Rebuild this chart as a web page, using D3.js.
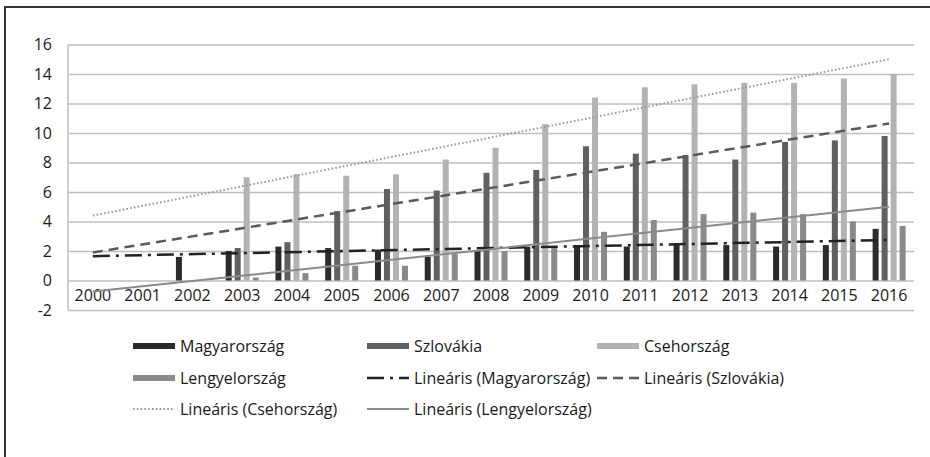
<!DOCTYPE html>
<html>
<head>
<meta charset="utf-8">
<script src="https://cdn.jsdelivr.net/npm/d3@7/dist/d3.min.js"></script>
<style>
  body { margin: 0; background: #fff; }
  svg { display: block; font-family: "Open Sans", sans-serif; }
</style>
</head>
<body>
<svg id="chart" width="930" height="457"></svg>
<script>
// data
var years = ["2000","2001","2002","2003","2004","2005","2006","2007","2008",
             "2009","2010","2011","2012","2013","2014","2015","2016"];
var magyar   = [null,null,1.6,2.0,2.3,2.2,2.1,1.6,2.0,2.3,2.4,2.3,2.5,2.4,2.3,2.4,3.5];
var szlovak  = [null,null,null,2.2,2.6,4.7,6.2,6.1,7.3,7.5,9.1,8.6,8.5,8.2,9.4,9.5,9.8];
var cseh     = [null,null,null,7.0,7.2,7.1,7.2,8.2,9.0,10.6,12.4,13.1,13.3,13.4,13.4,13.7,14.0];
var lengyel  = [null,null,null,0.2,0.5,1.0,1.0,1.8,2.0,2.2,3.3,4.1,4.5,4.6,4.5,4.0,3.7];
// trend lines: value at 2000 and at 2016
var trendMagyar  = [1.65, 2.75];
var trendSzlovak = [1.9, 10.65];
var trendCseh    = [4.4, 15.0];
var trendLengyel = [-0.75, 5.0];
var yTicks = [-2,0,2,4,6,8,10,12,14,16];

var series = [
  {name: "Magyarország", values: magyar,  color: "#2b2b2b"},
  {name: "Szlovákia",    values: szlovak, color: "#606060"},
  {name: "Csehország",   values: cseh,    color: "#b3b3b3"},
  {name: "Lengyelország",values: lengyel, color: "#8a8a8a"}
];
var trends = [
  {name: "Lineáris (Magyarország)",  ends: trendMagyar,  color: "#222", width: 2.5, dash: "17,6,3,6"},
  {name: "Lineáris (Szlovákia)",     ends: trendSzlovak, color: "#5a5a5a", width: 2.5, dash: "10,6"},
  {name: "Lineáris (Csehország)",    ends: trendCseh,    color: "#9a9a9a", width: 2, dash: "1.6,2.2"},
  {name: "Lineáris (Lengyelország)", ends: trendLengyel, color: "#8a8a8a", width: 2, dash: null}
];

var svg = d3.select("#chart");

// frame (left + top only)
svg.append("path").attr("d", "M5,457V7H930")
  .attr("fill", "none").attr("stroke", "#333").attr("stroke-width", 2);

var left = 68, right = 914;
var x = d3.scaleBand().domain(years).range([left, right]).padding(0);
var y = d3.scaleLinear().domain([-2, 16]).range([310, 44.5]);

// gridlines + y labels
var yAxis = d3.axisLeft(y).tickValues(yTicks).tickSize(-(right - left)).tickPadding(16)
  .tickFormat(function(d) { return String(d); });
var gy = svg.append("g").attr("transform", "translate(" + left + ",0)").call(yAxis);
gy.select(".domain").remove();
gy.selectAll(".tick line").attr("stroke", "#bfbfbf").attr("stroke-width", 1.5);
gy.selectAll(".tick text").attr("font-size", 16).attr("fill", "#1a1a1a")
  .attr("font-family", "'Open Sans', sans-serif");

// value axis line
svg.append("line").attr("x1", left).attr("x2", left)
  .attr("y1", y(16)).attr("y2", y(-2))
  .attr("stroke", "#bfbfbf").attr("stroke-width", 1.5);

// bars
var barW = 6, step = 9;
series.forEach(function(s, i)
{
  svg.append("g").selectAll("rect")
    .data(s.values.map(function(v, j) { return {year: years[j], v: v}; })
      .filter(function(d) { return d.v != null; }))
    .enter().append("rect")
      .attr("x", function(d) { return x(d.year) + x.bandwidth() / 2 + (i - 1.5) * step - barW / 2; })
      .attr("y", function(d) { return y(d.v); })
      .attr("width", barW)
      .attr("height", function(d) { return y(0) - y(d.v); })
      .attr("fill", s.color);
});

// category labels on the 0 axis
var xAxis = d3.axisBottom(x).tickSize(0).tickPadding(9);
var gx = svg.append("g").attr("transform", "translate(0," + y(0) + ")").call(xAxis);
gx.select(".domain").remove();
gx.selectAll(".tick text").attr("font-size", 16).attr("fill", "#1a1a1a")
  .attr("font-family", "'Open Sans', sans-serif");

// trend lines
var xFirst = x(years[0]) + x.bandwidth() / 2,
    xLast = x(years[years.length - 1]) + x.bandwidth() / 2;
trends.forEach(function(t)
{
  svg.append("line")
    .attr("x1", xFirst).attr("y1", y(t.ends[0]))
    .attr("x2", xLast).attr("y2", y(t.ends[1]))
    .attr("stroke", t.color).attr("stroke-width", t.width)
    .attr("stroke-dasharray", t.dash);
});

// legend
var cols = [133, 367, 597], rows = [347, 379, 410], swW = 42;
var items = [
  {type: "bar", s: series[0]}, {type: "bar", s: series[1]}, {type: "bar", s: series[2]},
  {type: "bar", s: series[3]}, {type: "line", s: trends[0]}, {type: "line", s: trends[1]},
  {type: "line", s: trends[2]}, {type: "line", s: trends[3]}
];
items.forEach(function(it, k)
{
  var lx = cols[k % 3], ly = rows[Math.floor(k / 3)];
  var g = svg.append("g").attr("transform", "translate(" + lx + "," + ly + ")");
  if(it.type == "bar")
    g.append("rect").attr("x", 0).attr("y", -4).attr("width", swW).attr("height", 6)
      .attr("fill", it.s.color);
  else
    g.append("line").attr("x1", 0).attr("x2", swW).attr("y1", -1).attr("y2", -1)
      .attr("stroke", it.s.color).attr("stroke-width", it.s.width)
      .attr("stroke-dasharray", it.s.dash);
  g.append("text").attr("x", swW + 5).attr("y", 5)
    .attr("font-size", 16).attr("fill", "#1a1a1a").text(it.s.name);
});
</script>
</body>
</html>
